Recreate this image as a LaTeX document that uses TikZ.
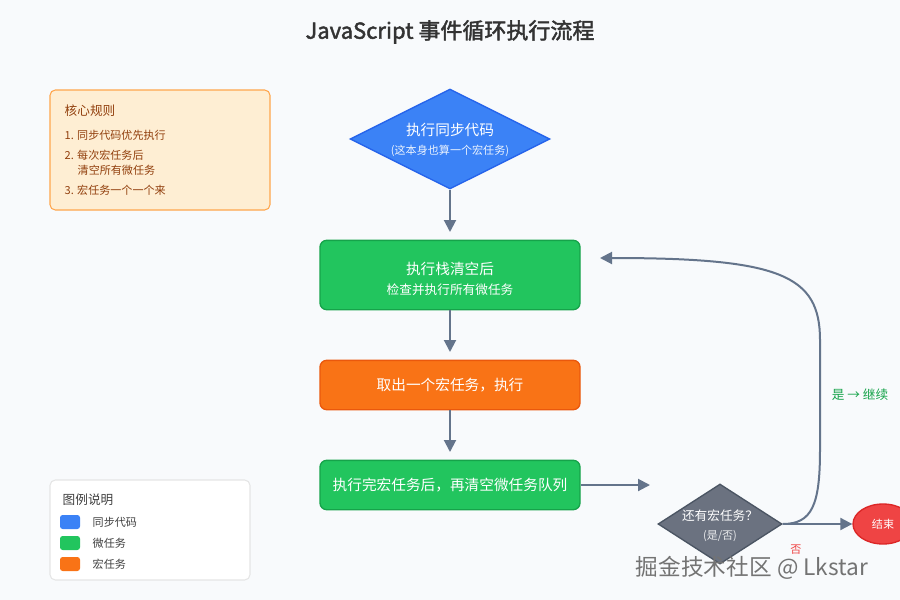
\documentclass[tikz,border=0pt]{standalone}
\usepackage{fontspec}
\setmainfont{Noto Sans CJK SC}[AutoFakeBold=2]
\usetikzlibrary{shapes.geometric,arrows.meta}
\definecolor{bg}{HTML}{F8FAFC}
\definecolor{blu}{HTML}{3B82F6}\definecolor{bluD}{HTML}{2563EB}
\definecolor{grn}{HTML}{22C55E}\definecolor{grnD}{HTML}{16A34A}
\definecolor{org}{HTML}{F97316}\definecolor{orgD}{HTML}{EA580C}
\definecolor{gry}{HTML}{6B7280}\definecolor{gryD}{HTML}{4B5563}
\definecolor{rd}{HTML}{EF4444}\definecolor{rdD}{HTML}{DC2626}
\definecolor{ln}{HTML}{64748B}
\definecolor{brn}{HTML}{92400E}
\begin{document}
\begin{tikzpicture}[x=0.75pt,y=-0.75pt,
  fs/.style={font=\fontsize{#1}{#1}\selectfont},
  box/.style={rounded corners=5pt,draw=#1D,fill=#1,line width=1pt,minimum width=195pt,text=white,align=center},
  arr/.style={draw=ln,line width=1.5pt,-{Triangle[length=9pt,width=9pt]}}]
\useasboundingbox[fill=bg] (0,0) rectangle (900,600);
\node[fs=16.5,font=\bfseries\fontsize{16.5}{18}\selectfont,text=black!80] (title) at (450,32) {JavaScript 事件循环执行流程};
% rules
\node[draw=orange!70,fill=yellow!20!orange!15,rounded corners=4pt,line width=0.8pt,minimum width=165pt,minimum height=90pt] (rules) at (160,150) {};
\node[anchor=west,text=brn,fs=9.5] (r0) at (60,111) {核心规则};
\node[anchor=west,text=brn,fs=8.3] (r1) at (60,135) {1. 同步代码优先执行};
\node[anchor=west,text=brn,fs=8.3] (r2) at (60,155) {2. 每次宏任务后};
\node[anchor=west,text=brn,fs=8.3] (r2b) at (73,170) {清空所有微任务};
\node[anchor=west,text=brn,fs=8.3] (r3) at (60,190) {3. 宏任务一个一个来};
% flow
\node[diamond,aspect=2,draw=bluD,fill=blu,line width=1pt,minimum width=150pt,minimum height=75pt,inner sep=0pt] (d1) at (450,139) {};
\node[text=white,fs=11] (d1a) at (450,130) {执行同步代码};
\node[text=white!90!blu,fs=8.3] (d1b) at (450,151) {(这本身也算一个宏任务)};
\node[box=grn,minimum height=52pt] (b1) at (450,275) {};
\node[text=white,fs=11] (b1a) at (450,269) {执行栈清空后};
\node[text=white,fs=9.5] (b1b) at (450,290) {检查并执行所有微任务};
\node[box=org,minimum height=37pt,fs=11] (b2) at (450,385) {取出一个宏任务，执行};
\node[box=grn,minimum height=37pt,fs=11] (b3) at (450,485) {执行完宏任务后，再清空微任务队列};
\node[diamond,aspect=1.55,draw=gryD,fill=gry,line width=1pt,minimum width=93pt,minimum height=60pt,inner sep=0pt] (d2) at (720,524) {};
\node[text=white,fs=9.5] (d2a) at (720,516) {还有宏任务？};
\node[text=white!85!gry,fs=8.3] (d2b) at (720,536) {(是/否)};
\node[ellipse,draw=rdD,fill=rd,line width=1pt,minimum width=45pt,minimum height=30pt,inner sep=0pt,text=white,fs=8.3] (end) at (883,524) {结束};
\coordinate (c1) at (450,232);\coordinate (c2) at (450,352);\coordinate (c3) at (450,452);
\coordinate (c4) at (650,485);\coordinate (c5) at (600,258);
\draw[arr] (d1.south) -- (c1);
\draw[arr] (b1.south) -- (c2);
\draw[arr] (b2.south) -- (c3);
\draw[arr] (b3.east) -- (c4);
\draw[arr] (d2.east) -- (end.west);
\draw[arr] (d2.east) .. controls (812,524) and (820,505) .. (820,450) -- (820,340) .. controls (820,275) and (780,258) .. (c5);
\node[text=grnD,fs=9.5] (yes) at (860,395) {是 → 继续};
\node[text=rd,fs=8.3] (no) at (796,550) {否};
% legend
\node[draw=black!10,fill=white,rounded corners=4pt,line width=0.8pt,minimum width=150pt,minimum height=75pt] (leg) at (150,530) {};
\node[anchor=west,fs=9.5,text=black!75] (l0) at (58,500) {图例说明};
\node[fill=blu,rounded corners=2pt,minimum width=15pt,minimum height=10.5pt,inner sep=0pt] (s1) at (70,522) {};
\node[fill=grn,rounded corners=2pt,minimum width=15pt,minimum height=10.5pt,inner sep=0pt] (s2) at (70,543) {};
\node[fill=org,rounded corners=2pt,minimum width=15pt,minimum height=10.5pt,inner sep=0pt] (s3) at (70,564) {};
\node[anchor=west,fs=8.3,text=black!75] (t1) at (88,522) {同步代码};
\node[anchor=west,fs=8.3,text=black!75] (t2) at (88,543) {微任务};
\node[anchor=west,fs=8.3,text=black!75] (t3) at (88,564) {宏任务};
% watermark
\node[fs=17,text=black!55] (wm) at (752,568) {掘金技术社区 @ Lkstar};
\end{tikzpicture}
\end{document}
